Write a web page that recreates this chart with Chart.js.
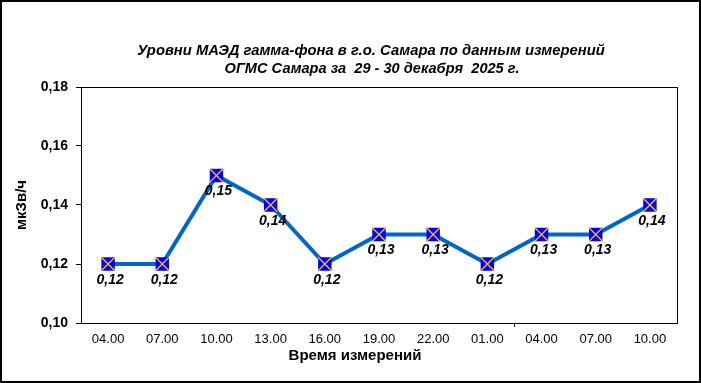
<!DOCTYPE html>
<html lang="ru">
<head>
    <meta charset="UTF-8">
    <title>Уровни МАЭД гамма-фона</title>
    <style>
        body {
            margin: 0;
            background: #ffffff;
        }
        canvas {
            display: block;
        }
    </style>
</head>
<body>
    <canvas id="gammaChart" width="701" height="383"></canvas>

    <script src="https://cdn.jsdelivr.net/npm/chart.js"></script>
    <script>
        // Data
        const timeLabels = ['04.00', '07.00', '10.00', '13.00', '16.00', '19.00', '22.00', '01.00', '04.00', '07.00', '10.00'];
        const doseValues = [0.12, 0.12, 0.15, 0.14, 0.12, 0.13, 0.13, 0.12, 0.13, 0.13, 0.14];
        const titleLines = ['Уровни МАЭД гамма-фона в г.о. Самара по данным измерений', 'ОГМС Самара за  29 - 30 декабря  2025 г.'];
        const xTitle = 'Время измерений';
        const dayBreakIndex = 7; // last point of the first day

        const FONT = "'Liberation Sans', Arial, sans-serif";

        // white background, frame, plot border, titles and value labels
        const decorPlugin = {
            id: 'decor',
            beforeDraw(chart) {
                const c = chart.ctx;
                c.save();
                c.fillStyle = '#ffffff';
                c.fillRect(0, 0, chart.width, chart.height);
                c.restore();
            },
            beforeDatasetsDraw(chart) {
                const c = chart.ctx;
                const a = chart.chartArea;
                c.save();
                c.strokeStyle = '#000000';
                c.lineWidth = 1;
                c.strokeRect(a.left + 0.5, a.top + 0.5, a.right - a.left, a.bottom - a.top);
                c.restore();
            },
            afterDatasetsDraw(chart) {
                const c = chart.ctx;
                const meta = chart.getDatasetMeta(0);
                c.save();
                c.fillStyle = '#000000';
                c.font = 'italic bold 14px ' + FONT;
                c.textAlign = 'center';
                c.textBaseline = 'middle';
                meta.data.forEach((pt, i) => {
                    const txt = doseValues[i].toFixed(2).replace('.', ',');
                    c.fillText(txt, pt.x + 2, pt.y + 16);
                });
                c.restore();
            },
            afterDraw(chart) {
                const c = chart.ctx;
                c.save();
                c.fillStyle = '#000000';
                c.textAlign = 'center';
                c.textBaseline = 'middle';
                c.font = 'italic bold 14.8px ' + FONT;
                c.fillText(titleLines[0], 371, 51);
                c.font = 'italic bold 14.6px ' + FONT;
                c.fillText(titleLines[1], 372, 69);
                c.font = 'bold 15px ' + FONT;
                c.fillText(xTitle, 355, 356);
                c.strokeStyle = '#000000';
                c.lineWidth = 2;
                c.strokeRect(1, 1, chart.width - 2, chart.height - 2);
                c.restore();
            }
        };

        const ctx = document.getElementById('gammaChart').getContext('2d');
        const gammaChart = new Chart(ctx, {
            type: 'line',
            data: {
                labels: timeLabels,
                datasets: [{
                    label: 'МАЭД',
                    data: doseValues,
                    order: 1,
                    borderColor: '#0066CC',
                    borderWidth: 4,
                    tension: 0,
                    pointStyle: 'rect',
                    pointRadius: 9.5,
                    pointBackgroundColor: '#0000FF',
                    pointBorderColor: '#0000FF',
                    pointBorderWidth: 0
                }, {
                    label: 'cross',
                    data: doseValues,
                    order: 0,
                    showLine: false,
                    pointStyle: 'crossRot',
                    pointRadius: 9.5,
                    pointBorderColor: '#FFC000',
                    pointBorderWidth: 1.3
                }]
            },
            options: {
                responsive: false,
                animation: false,
                devicePixelRatio: 1,
                layout: {
                    padding: { left: 0, top: 87, right: 24, bottom: 0 }
                },
                plugins: {
                    legend: { display: false },
                    tooltip: { enabled: false },
                    title: { display: false }
                },
                scales: {
                    x: {
                        offset: true,
                        grid: {
                            offset: true,
                            drawOnChartArea: false,
                            tickLength: 4,
                            color: (c) => c.index === dayBreakIndex + 1 ? '#000000' : 'rgba(0,0,0,0)'
                        },
                        border: { color: '#000000', width: 1 },
                        ticks: {
                            color: '#000000',
                            font: { family: FONT, size: 13 },
                            padding: 5,
                            maxRotation: 0,
                            autoSkip: false
                        },
                        afterFit(scale) { scale.height = 60; }
                    },
                    y: {
                        min: 0.10,
                        max: 0.18,
                        grid: {
                            drawOnChartArea: false,
                            tickLength: 5,
                            color: '#000000'
                        },
                        border: { color: '#000000', width: 1 },
                        ticks: {
                            stepSize: 0.02,
                            color: '#000000',
                            font: { family: FONT, size: 14, weight: 'bold' },
                            padding: 8,
                            callback: (v) => v.toFixed(2).replace('.', ',')
                        },
                        title: {
                            display: true,
                            text: 'мкЗв/ч',
                            color: '#000000',
                            font: { family: FONT, size: 15, weight: 'bold' },
                            padding: { top: 13, bottom: 0 }
                        },
                        afterFit(scale) { scale.width = 81; }
                    }
                }
            },
            plugins: [decorPlugin]
        });
    </script>
</body>
</html>
